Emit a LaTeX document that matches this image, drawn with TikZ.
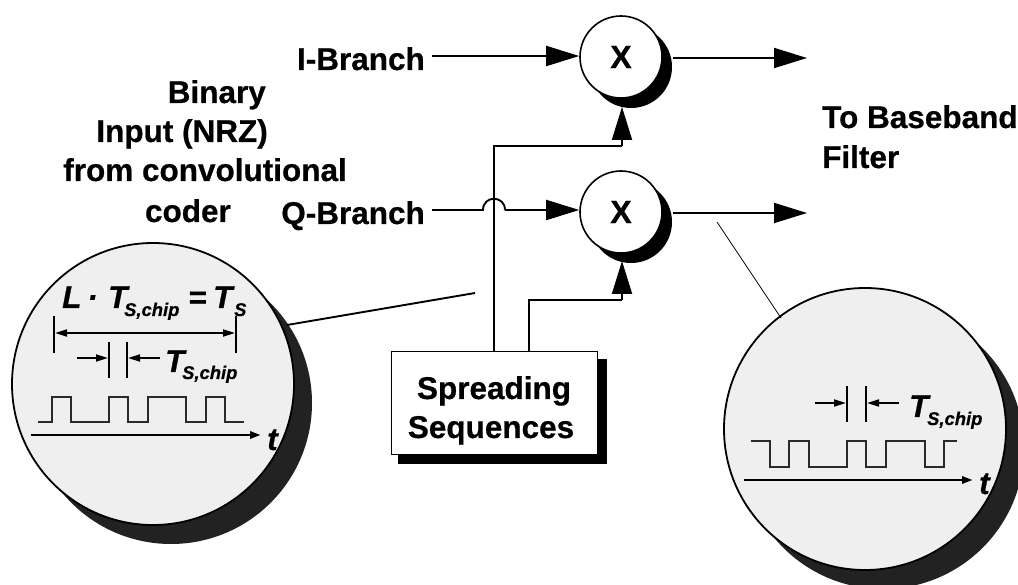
\documentclass[tikz,border=0pt]{standalone}
\usepackage{fontspec}
\setmainfont{Liberation Sans}[BoldFeatures={FakeBold=0.6},BoldItalicFeatures={FakeBold=0.6}]
\usetikzlibrary{arrows.meta}
\newcommand{\fs}[1]{\fontsize{#1}{#1}\selectfont}
\tikzset{
  lab/.style={inner sep=0pt,font=\fs{31.5}\bfseries},
  ital/.style={inner sep=0pt,font=\fs{31.5}\bfseries\itshape},
  subs/.style={inner sep=0pt,font=\fs{18.4}\bfseries\itshape},
  mult/.style={circle,draw=black,line width=1.6pt,fill=white,minimum size=82pt,inner sep=0pt,font=\fs{32}\bfseries},
  wire/.style={line width=1.9pt,black},
  bighead/.style={wire,-{Triangle[length=33pt,width=20pt]}},
  lens/.style={draw=black,line width=1.8pt,fill=lensgray},
  lensshadow/.style={fill=shadowgray},
  tick/.style={line width=2.7pt,black},
  dim/.style={line width=1.8pt,black,-{Triangle[length=12pt,width=7pt]}},
  pulse/.style={line width=1.7pt,pulsegray},
  axis/.style={line width=2.9pt,black,-{Triangle[length=11pt,width=7pt]}},
}
\definecolor{lensgray}{HTML}{EFEFEF}
\definecolor{shadowgray}{HTML}{222222}
\definecolor{pulsegray}{HTML}{2A2A2A}
\begin{document}
\begin{tikzpicture}[x=1pt,y=-1pt]
\clip (0,0) rectangle (1018,585);
% lenses
\fill[lensshadow] (171,403) circle[radius=141];
\draw[lens] (153,384) circle[radius=141];
\fill[lensshadow] (883,448) circle[radius=141];
\draw[lens] (865,429) circle[radius=141];
% lens pointers
\coordinate (lp1) at (475,293); \coordinate (lp2) at (287,325);
\draw[line width=1.9pt] (lp1) -- (lp2);
\coordinate (rp1) at (717,222); \coordinate (rp2) at (781,318);
\draw[line width=0.8pt] (rp1) -- (rp2);
% multipliers
\fill (631,67) circle[radius=41];
\fill (631,222) circle[radius=41];
\node[mult] (mi) at (621,57) {\raisebox{-3.5pt}{X}};
\node[mult] (mq) at (621,212) {\raisebox{-3.5pt}{X}};
% box
\fill (398,359) rectangle (607,464);
\node[draw=black,line width=1.3pt,fill=white,minimum width=206pt,minimum height=103pt,inner sep=0pt,anchor=north west] (box) at (391,351) {};
\node[lab,anchor=base] (sp1) at (494,399) {Spreading};
\node[lab,anchor=base] (sp2) at (491,438) {Sequences};
% labels
\node[lab,anchor=base east] (ib) at (425,70) {I-Branch};
\node[lab,anchor=base east] (qb) at (425,224) {Q-Branch};
\node[lab,anchor=base west] (bb1) at (822,128) {To Baseband};
\node[lab,anchor=base west] (bb2) at (822,168) {Filter};
\node[lab,anchor=base east] (bin1) at (266,103) {Binary};
\node[lab,anchor=base east] (bin2) at (268,142) {Input (NRZ)};
\node[lab,anchor=base east] (bin3) at (347,181) {from convolutional};
\node[lab,anchor=base east] (bin4) at (231,222) {coder};
% wires
\coordinate (io) at (807,58); \coordinate (qo) at (807,213);
\coordinate (is) at (432,56); \coordinate (qs) at (432,210);
\coordinate (hop1) at (483,210); \coordinate (hop2) at (505,210);
\coordinate (c1) at (494,146); \coordinate (c2) at (622,146);
\coordinate (d1) at (529,300); \coordinate (d2) at (622,300);
\draw[bighead] (is) -- (mi.west |- is);
\draw[bighead] (mi.east |- io) ++(10,0) -- (io);
\draw[bighead] (mq.east |- qo) ++(10,0) -- (qo);
\draw[wire] (qs) -- (hop1) .. controls (483,195) and (505,195) .. (hop2);
\draw[bighead] (hop2) -- (mq.west |- hop2);
\draw[wire] (box.north -| c1) -- (c1) -- (c2);
\draw[bighead] (c2) -- (622,107);
\draw[wire] (box.north -| d1) -- (d1) -- (d2);
\draw[bighead] (d2) -- (622,261);
% left lens content
\node[ital,anchor=base west] (l1) at (62,308) {L};
\node[ital,anchor=base west] (l2) at (87,308) {·};
\node[ital,anchor=base west] (l3) at (108,308) {T};
\node[subs,anchor=base west] (l4) at (124,316) {S,chip};
\node[ital,anchor=base west] (l5) at (188,308) {=};
\node[ital,anchor=base west] (l6) at (213,308) {T};
\node[subs,anchor=base west] (l7) at (234,316) {S};
\coordinate (a1) at (54,316); \coordinate (a2) at (54,353);
\coordinate (a3) at (236,316); \coordinate (a4) at (236,353);
\draw[tick] (a1) -- (a2); \draw[tick] (a3) -- (a4);
\draw[line width=1.8pt,{Triangle[length=12pt,width=7pt]}-{Triangle[length=12pt,width=7pt]}] (55,333) -- (235,333);
\draw[tick] (109,342) -- (109,378); \draw[tick] (127,342) -- (127,378);
\draw[dim] (77,358) -- (108,358); \draw[dim] (160,358) -- (128,358);
\node[ital,anchor=base west] (l8) at (165,372) {T};
\node[subs,anchor=base west] (l9) at (182,379) {S,chip};
\draw[pulse] (38,422) -- (52,422) -- (52,397) -- (71,397) -- (71,422) -- (109,422) -- (109,397) -- (128,397) -- (128,422) -- (148,422) -- (148,397) -- (186,397) -- (186,422) -- (206,422) -- (206,397) -- (225,397) -- (225,422) -- (244,422);
\draw[axis] (31,435) -- (261,435);
\node[ital,anchor=base west] (l10) at (267,450) {t};
% right lens content
\draw[tick] (847,386) -- (847,422); \draw[tick] (866,386) -- (866,422);
\draw[dim] (815,403) -- (846,403); \draw[dim] (899,403) -- (867,403);
\node[ital,anchor=base west] (r1) at (909,417) {T};
\node[subs,anchor=base west] (r2) at (927,425) {S,chip};
\draw[pulse] (751,441) -- (770,441) -- (770,467) -- (789,467) -- (789,441) -- (809,441) -- (809,467) -- (847,467) -- (847,441) -- (866,441) -- (866,467) -- (886,467) -- (886,441) -- (925,441) -- (925,467) -- (944,467) -- (944,441) -- (957,441);
\draw[axis] (744,480) -- (973,480);
\node[ital,anchor=base west] (r3) at (979,494) {t};
\end{tikzpicture}
\end{document}
